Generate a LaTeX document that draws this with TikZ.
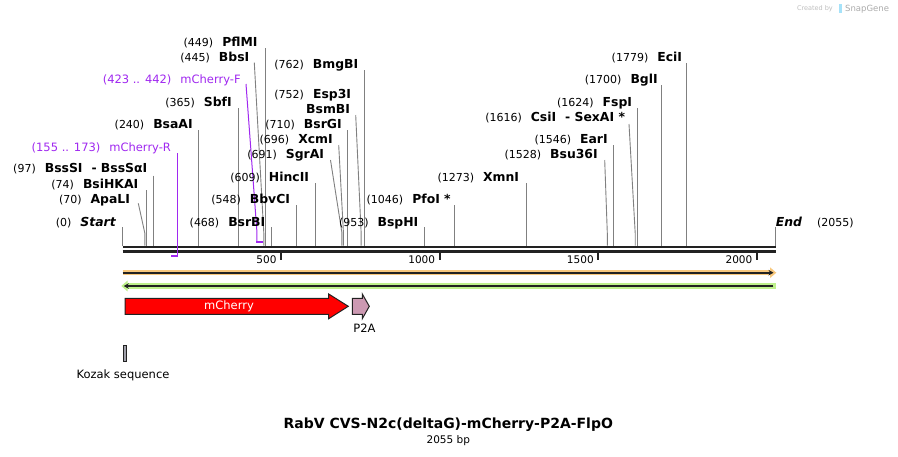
\documentclass[tikz,border=0pt]{standalone}
\usepackage{fontspec}
\setmainfont{DejaVu Sans}
\usetikzlibrary{arrows.meta}
\definecolor{sitegray}{RGB}{128,128,128}
\definecolor{primerpurple}{RGB}{160,40,240}
\definecolor{bbdark}{RGB}{34,34,34}
\definecolor{featorange}{RGB}{248,200,125}
\definecolor{featgreen}{RGB}{190,240,140}
\definecolor{cherryred}{RGB}{255,0,0}
\definecolor{ptwoa}{RGB}{204,153,178}
\definecolor{kozakgray}{RGB}{160,160,170}
\newcommand\nm[1]{{\fontsize{11}{13}\selectfont #1}}
\newcommand\en[1]{{\fontsize{12.4}{14}\selectfont\bfseries #1}}
\newcommand\lab[2]{\nm{#1}\hspace{9pt}\en{#2}}
\begin{document}
\begin{tikzpicture}[x=1pt,y=-1pt,
  lab/.style={anchor=base east, inner sep=0pt, outer sep=0pt},
  plab/.style={anchor=base east, inner sep=0pt, outer sep=0pt, text=primerpurple, font=\fontsize{11.5}{13}\selectfont},
  site/.style={draw=sitegray, line width=0.9pt},
  primer/.style={draw=primerpurple, line width=1pt},
  pbar/.style={draw=primerpurple, line width=2pt},
  bb/.style={draw=bbdark, line width=2.6pt},
  tickmark/.style={draw=bbdark, line width=2pt},
  ticklab/.style={anchor=base east, inner sep=0pt, font=\fontsize{10.5}{12}\selectfont},
  feat/.style={draw=bbdark, line width=1pt, line join=miter}]
\useasboundingbox (0,0) rectangle (898,456);
\fill[white] (0,0) rectangle (898,456);

% watermark
\node[anchor=base east, inner sep=0pt, text=black!25, font=\fontsize{6.5}{7}\selectfont] (wm1) at (833,10.5) {Created by};
\fill[cyan!35] (838.5,3.5) rectangle (842,12.5);
\node[anchor=base west, inner sep=0pt, text=black!33, font=\fontsize{8.5}{9}\selectfont] (wm2) at (845,11) {SnapGene};

% backbone
\coordinate (bbA) at (122.5,247); \coordinate (bbB) at (775.5,247);
\coordinate (bbC) at (122.5,251.3); \coordinate (bbD) at (775.5,251.3);
\draw[bb] (bbA) -- (bbB);
\draw[bb] (bbC) -- (bbD);

% ticks
\foreach \tx/\tl in {281.2/500, 439.8/1000, 598.4/1500, 757.0/2000}{
  \draw[tickmark] (\tx,251.5) -- (\tx,259.5);
  \node[ticklab] (tick\tl) at (\tx-4.5,263.2) {\tl};
}

% ---- sites ----
% Start
\node[lab] (lStart) at (115.7,226) {\lab{(0)}{\itshape Start}};
\coordinate (tStart) at (122.6,227); \coordinate (bStart) at (122.6,245.7);
\draw[site] (tStart) -- (bStart);
% ApaLI
\node[lab] (lApaLI) at (130,203.3) {\lab{(70)}{ApaLI}};
\coordinate (tApaLI) at (138.3,203.3); \coordinate (kApaLI) at (144.8,233); \coordinate (bApaLI) at (144.8,245.7);
\draw[site] (tApaLI) -- (kApaLI) -- (bApaLI);
% BsiHKAI
\node[lab] (lBsiHKAI) at (138.3,188.3) {\lab{(74)}{BsiHKAI}};
\coordinate (tBsiHKAI) at (146.1,190); \coordinate (bBsiHKAI) at (146.1,245.7);
\draw[site] (tBsiHKAI) -- (bBsiHKAI);
% BssSI
\node[lab] (lBssSI) at (147.3,172) {\lab{(97)}{BssSI\hspace{9pt}- BssSαI}};
\coordinate (tBssSI) at (153.4,175.7); \coordinate (bBssSI) at (153.4,245.7);
\draw[site] (tBssSI) -- (bBssSI);
% mCherry-R
\node[plab] (lmCR) at (171,151) {(155 .. 173)\hspace{9pt}mCherry-R};
\coordinate (tmCR) at (177.5,153.3); \coordinate (bmCR) at (177.5,256); \coordinate (emCR) at (171.3,256);
\draw[primer] (tmCR) -- (bmCR);
\draw[pbar] (emCR) -- ([xshift=0.5pt]bmCR);
% BsaAI
\node[lab] (lBsaAI) at (192.7,128.3) {\lab{(240)}{BsaAI}};
\coordinate (tBsaAI) at (198.7,130); \coordinate (bBsaAI) at (198.7,245.7);
\draw[site] (tBsaAI) -- (bBsaAI);
% SbfI
\node[lab] (lSbfI) at (231.7,106) {\lab{(365)}{SbfI}};
\coordinate (tSbfI) at (238.4,108.3); \coordinate (bSbfI) at (238.4,245.7);
\draw[site] (tSbfI) -- (bSbfI);
% mCherry-F
\node[plab] (lmCF) at (240.7,83.3) {(423 .. 442)\hspace{9pt}mCherry-F};
\coordinate (tmCF) at (246,84); \coordinate (kmCF) at (256.8,230); \coordinate (bmCF) at (256.8,242); \coordinate (emCF) at (262.8,242);
\draw[primer] (tmCF) -- (kmCF) -- (bmCF);
\draw[pbar] ([xshift=-0.5pt]bmCF) -- (emCF);
% BbsI
\node[lab] (lBbsI) at (249.3,61) {\lab{(445)}{BbsI}};
\coordinate (tBbsI) at (254.3,62.7); \coordinate (kBbsI) at (263.8,233); \coordinate (bBbsI) at (263.8,245.7);
\draw[site] (tBbsI) -- (kBbsI) -- (bBbsI);
% PflMI
\node[lab] (lPflMI) at (257.5,46) {\lab{(449)}{PflMI}};
\coordinate (tPflMI) at (265,48); \coordinate (bPflMI) at (265,245.7);
\draw[site] (tPflMI) -- (bPflMI);
% BsrBI
\node[lab] (lBsrBI) at (265.3,226.5) {\lab{(468)}{BsrBI}};
\coordinate (tBsrBI) at (271.1,227.3); \coordinate (bBsrBI) at (271.1,245.7);
\draw[site] (tBsrBI) -- (bBsrBI);
% BbvCI
\node[lab] (lBbvCI) at (290,203.3) {\lab{(548)}{BbvCI}};
\coordinate (tBbvCI) at (296.4,205); \coordinate (bBbvCI) at (296.4,245.7);
\draw[site] (tBbvCI) -- (bBbvCI);
% HincII
\node[lab] (lHincII) at (309,181) {\lab{(609)}{HincII}};
\coordinate (tHincII) at (315.8,183.3); \coordinate (bHincII) at (315.8,245.7);
\draw[site] (tHincII) -- (bHincII);
% SgrAI
\node[lab] (lSgrAI) at (324,158.3) {\lab{(691)}{SgrAI}};
\coordinate (tSgrAI) at (330.5,160); \coordinate (kSgrAI) at (341.8,232); \coordinate (bSgrAI) at (341.8,245.7);
\draw[site] (tSgrAI) -- (kSgrAI) -- (bSgrAI);
% XcmI
\node[lab] (lXcmI) at (332.7,143.3) {\lab{(696)}{XcmI}};
\coordinate (tXcmI) at (338.7,145); \coordinate (kXcmI) at (343.4,232); \coordinate (bXcmI) at (343.4,245.7);
\draw[site] (tXcmI) -- (kXcmI) -- (bXcmI);
% BsrGI
\node[lab] (lBsrGI) at (341.7,128.3) {\lab{(710)}{BsrGI}};
\coordinate (tBsrGI) at (347.8,130); \coordinate (bBsrGI) at (347.8,245.7);
\draw[site] (tBsrGI) -- (bBsrGI);
% Esp3I / BsmBI
\node[lab] (lEsp3I) at (351,98.3) {\lab{(752)}{Esp3I}};
\node[lab] (lBsmBI) at (350,113.3) {\en{BsmBI}};
\coordinate (tEsp3I) at (355.7,115); \coordinate (kEsp3I) at (361.1,232); \coordinate (bEsp3I) at (361.1,245.7);
\draw[site] (tEsp3I) -- (kEsp3I) -- (bEsp3I);
% BmgBI
\node[lab] (lBmgBI) at (358.3,68.3) {\lab{(762)}{BmgBI}};
\coordinate (tBmgBI) at (364.3,70); \coordinate (bBmgBI) at (364.3,245.7);
\draw[site] (tBmgBI) -- (bBmgBI);
% BspHI
\node[lab] (lBspHI) at (418.3,226.5) {\lab{(953)}{BspHI}};
\coordinate (tBspHI) at (424.9,227.3); \coordinate (bBspHI) at (424.9,245.7);
\draw[site] (tBspHI) -- (bBspHI);
% PfoI
\node[lab] (lPfoI) at (450.7,203.3) {\lab{(1046)}{PfoI *}};
\coordinate (tPfoI) at (454.4,205); \coordinate (bPfoI) at (454.4,245.7);
\draw[site] (tPfoI) -- (bPfoI);
% XmnI
\node[lab] (lXmnI) at (519,181) {\lab{(1273)}{XmnI}};
\coordinate (tXmnI) at (526.4,183.3); \coordinate (bXmnI) at (526.4,245.7);
\draw[site] (tXmnI) -- (bXmnI);
% Bsu36I
\node[lab] (lBsu36I) at (597.7,158.3) {\lab{(1528)}{Bsu36I}};
\coordinate (tBsu36I) at (604.7,160); \coordinate (kBsu36I) at (607.3,233); \coordinate (bBsu36I) at (607.3,245.7);
\draw[site] (tBsu36I) -- (kBsu36I) -- (bBsu36I);
% EarI
\node[lab] (lEarI) at (607.7,143.3) {\lab{(1546)}{EarI}};
\coordinate (tEarI) at (613,145); \coordinate (bEarI) at (613,245.7);
\draw[site] (tEarI) -- (bEarI);
% CsiI - SexAI
\node[lab] (lCsiI) at (625,121.6) {\lab{(1616)}{CsiI\hspace{9pt}- SexAI *}};
\coordinate (tCsiI) at (629,124); \coordinate (kCsiI) at (635.2,233); \coordinate (bCsiI) at (635.2,245.7);
\draw[site] (tCsiI) -- (kCsiI) -- (bCsiI);
% FspI
\node[lab] (lFspI) at (632,106) {\lab{(1624)}{FspI}};
\coordinate (tFspI) at (637.7,108.3); \coordinate (bFspI) at (637.7,245.7);
\draw[site] (tFspI) -- (bFspI);
% BglI
\node[lab] (lBglI) at (657.7,83.3) {\lab{(1700)}{BglI}};
\coordinate (tBglI) at (661.8,85); \coordinate (bBglI) at (661.8,245.7);
\draw[site] (tBglI) -- (bBglI);
% EciI
\node[lab] (lEciI) at (682,61.6) {\lab{(1779)}{EciI}};
\coordinate (tEciI) at (686.9,63.3); \coordinate (bEciI) at (686.9,245.7);
\draw[site] (tEciI) -- (bEciI);
% End
\node[anchor=base west, inner sep=0pt] (lEnd) at (775.7,226) {\en{\itshape End}\hspace{15pt}\nm{(2055)}};
\coordinate (tEnd) at (775.3,226.7); \coordinate (bEnd) at (775.3,245.7);
\draw[site] (tEnd) -- (bEnd);

% ---- full-length features ----
\draw[featorange, line width=5.3pt] (122.5,272.7) -- (771,272.7);
\fill[featorange] (770,267.3) -- (776.3,272.7) -- (770,278.1) -- cycle;
\draw[bbdark, line width=1.8pt, -{Stealth[length=5pt,width=5.5pt]}] (122.5,272.7) -- (773.5,272.7);

\draw[featgreen, line width=5.3pt] (127,286) -- (775.5,286);
\fill[featgreen] (127.5,280.6) -- (121.3,286) -- (127.5,291.4) -- cycle;
\draw[bbdark, line width=1.8pt, -{Stealth[length=5pt,width=5.5pt]}] (773.3,286) -- (123.8,286);

% ---- mCherry ----
\draw[feat, fill=cherryred] (125,298.3) -- (328.7,298.3) -- (328.7,294) -- (348.3,306.3) -- (328.7,318.7) -- (328.7,314.3) -- (125,314.3) -- cycle;
\node[text=white, inner sep=0pt, font=\fontsize{11.5}{13}\selectfont] (lmCherry) at (229,306) {mCherry};

% ---- P2A ----
\draw[feat, fill=ptwoa] (352.3,298.3) -- (362.3,298.3) -- (362.3,294) -- (369.3,306.3) -- (362.3,318.7) -- (362.3,314.3) -- (352.3,314.3) -- cycle;
\node[inner sep=0pt, font=\fontsize{11.5}{13}\selectfont] (lP2A) at (364.5,328.3) {P2A};

% ---- Kozak ----
\draw[feat, fill=kozakgray] (123.3,345.3) rectangle (126.7,361.3);
\node[inner sep=0pt, font=\fontsize{11.5}{13}\selectfont] (lKozak) at (123,375) {Kozak sequence};

% ---- title ----
\node[inner sep=0pt, font=\fontsize{14}{16}\selectfont\bfseries] (title) at (448.3,424.3) {RabV CVS-N2c(deltaG)-mCherry-P2A-FlpO};
\node[inner sep=0pt, font=\fontsize{10.5}{12}\selectfont] (size) at (448.3,440.7) {2055 bp};
\end{tikzpicture}
\end{document}
